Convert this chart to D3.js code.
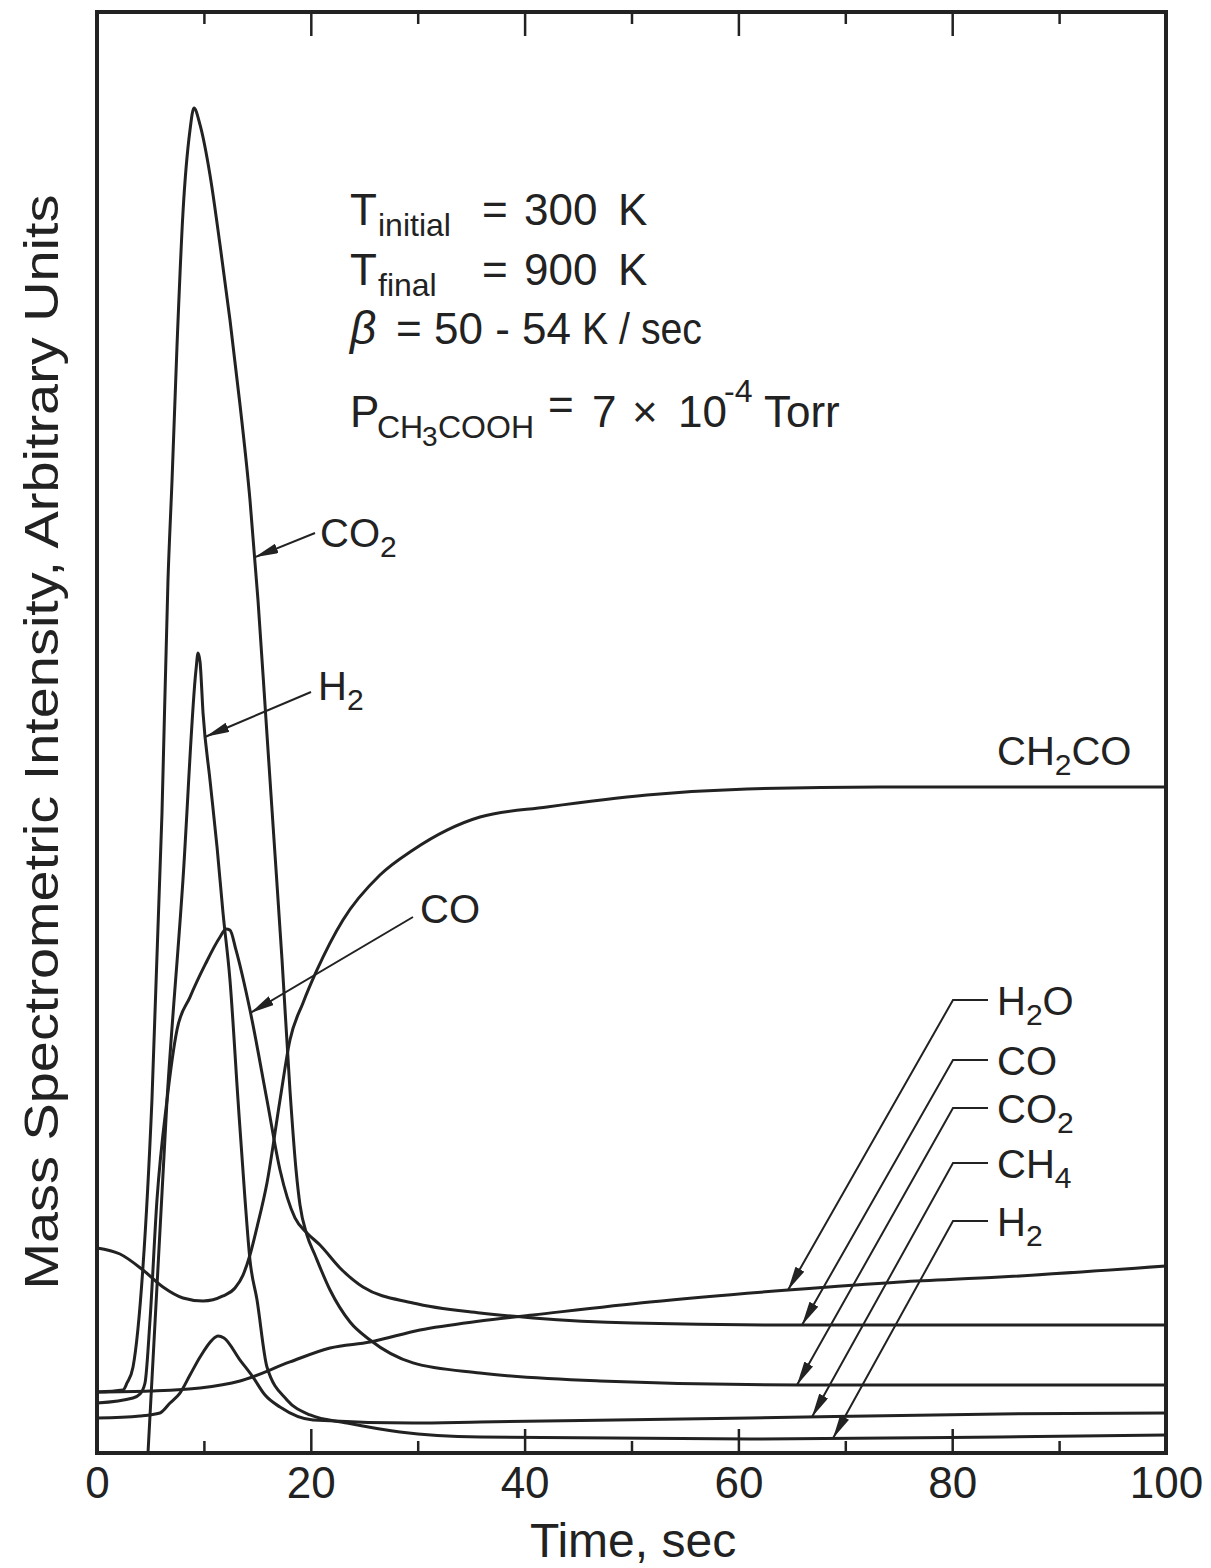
<!DOCTYPE html>
<html>
<head>
<meta charset="utf-8">
<script src="https://cdn.jsdelivr.net/npm/d3@7"></script>
<style>
  body { margin: 0; background: #fff; }
  svg text { font-family: "Liberation Sans", "DejaVu Sans", sans-serif; fill: #222; }
</style>
</head>
<body>
<svg></svg>
<script>
// time (sec) and intensity (arbitrary units, 0-100 of frame height)
const co2 = [[0,4.23],[2.43,4.37],[2.81,4.86],[3.37,5.97],[4.30,12.91],[5.14,24.5],[6.08,44.41],[6.64,60.58],[7.02,67.52],[7.48,76.75],[8.04,86.05],[8.70,91.81],[9.07,93.34],[9.64,92.16],[10.57,88.69],[11.51,83.83],[12.44,78.63],[13.38,72.73],[14.31,66.14],[15.06,59.19],[15.81,50.87],[16.56,42.54],[17.31,34.21],[18.05,25.19],[18.62,19.64],[18.99,17.21],[19.64,15.13],[20.39,13.74],[21.80,11.31],[23.67,9.09],[25.54,7.84],[29.56,6.25],[35.83,5.55],[47.05,5.0],[65.76,4.72],[84.47,4.72],[100,4.72]];
const h2 = [[4.77,0],[6.55,24.5],[8.04,39.76],[9.26,54.34],[9.45,55.52],[9.64,54.89],[9.92,51.35],[10.57,46.7],[11.23,42.05],[11.79,37.47],[12.44,32.82],[13.19,24.5],[13.85,17.56],[14.31,13.39],[14.97,10.62],[15.90,5.97],[17.77,3.68],[19.93,2.64],[23.39,2.08],[28.34,1.46],[35.83,1.11],[61.08,0.97],[84.47,1.11],[100,1.25]];
const co = [[0,3.47],[3.37,3.82],[4.02,4.09],[4.49,4.86],[4.96,9.23],[5.61,17.56],[6.55,24.5],[7.48,29.35],[8.70,31.64],[10.10,33.87],[11.51,35.81],[12.07,36.36],[12.44,36.29],[13.0,34.91],[14.31,30.74],[15.90,24.5],[17.12,19.64],[18.52,16.31],[19.64,15.27],[20.86,14.43],[22.73,12.84],[24.88,11.52],[29.56,10.41],[35.83,9.72],[40.79,9.37],[50.14,9.02],[65.76,8.88],[100,8.88]];
const ch4 = [[0,2.43],[4.02,2.57],[5.89,2.78],[6.83,3.47],[7.76,4.16],[8.70,5.41],[9.64,6.66],[10.76,7.84],[11.32,8.12],[11.88,7.98],[13.38,6.45],[14.59,5.27],[15.72,4.02],[17.12,3.19],[20.21,2.29],[29.56,2.08],[35.83,2.15],[61.08,2.43],[84.47,2.71],[100,2.78]];
const h2o = [[0,4.23],[4.96,4.3],[9.64,4.51],[13.38,5.0],[18.05,6.32],[21.80,7.29],[25.54,7.7],[30.21,8.54],[35.83,9.16],[40.79,9.58],[51.73,10.48],[64.64,11.31],[75.12,11.87],[84.47,12.21],[100,12.98]];
const ch2co = [[0,14.23],[2.15,13.81],[4.30,12.7],[6.17,11.52],[8.04,10.76],[9.92,10.55],[11.79,10.9],[12.91,11.45],[13.66,12.35],[14.31,13.74],[14.97,15.68],[15.90,18.74],[17.12,24.5],[18.05,28.66],[19.27,31.23],[20.58,33.52],[23.01,36.99],[26.47,40.11],[29.56,41.85],[32.74,43.23],[35.83,44.14],[42.10,44.83],[51.45,45.66],[60.80,46.08],[73.25,46.22],[100,46.22]];

const majorTicks = [0, 20, 40, 60, 80, 100];
const minorTicks = [10, 30, 50, 70, 90];

const svg = d3.select("svg").attr("width", 1211).attr("height", 1568);

const x = d3.scaleLinear().domain([0, 100]).range([97, 1166]);
const y = d3.scaleLinear().domain([0, 100]).range([1453, 12]);
const ink = "#222";

// arrowhead
svg.append("defs").append("marker")
    .attr("id", "arrow")
    .attr("viewBox", "0 0 24 10")
    .attr("refX", 24).attr("refY", 5)
    .attr("markerWidth", 24).attr("markerHeight", 10)
    .attr("markerUnits", "userSpaceOnUse")
    .attr("orient", "auto")
    .append("path").attr("d", "M0,0 L24,5 L0,10 Z").attr("fill", ink);

// ticks, pointing inward on top and bottom
function ticks(axisFn, vals, size, yPos, labels) {
    const g = svg.append("g").attr("transform", `translate(0,${yPos})`)
        .call(axisFn(x).tickValues(vals).tickSizeInner(-size).tickSizeOuter(0).tickPadding(14)
            .tickFormat(labels ? d3.format("d") : ""));
    g.select(".domain").remove();
    g.selectAll(".tick line").attr("stroke", ink).attr("stroke-width", 2.5);
    g.selectAll(".tick text").attr("font-size", 44).attr("font-family", null).attr("fill", ink);
    return g;
}
ticks(d3.axisBottom, majorTicks, 24, y(0), true);
ticks(d3.axisBottom, minorTicks, 12, y(0), false);
ticks(d3.axisTop, majorTicks, 24, y(100), false);
ticks(d3.axisTop, minorTicks, 12, y(100), false);

// frame
svg.append("rect")
    .attr("x", x(0)).attr("y", y(100))
    .attr("width", x(100) - x(0)).attr("height", y(0) - y(100))
    .attr("fill", "none").attr("stroke", ink).attr("stroke-width", 4);

// curves
const line = d3.line().x(d => x(d[0])).y(d => y(d[1])).curve(d3.curveMonotoneX);
[co2, h2, co, ch4, h2o, ch2co].forEach(s => {
    svg.append("path").attr("d", line(s))
        .attr("fill", "none").attr("stroke", ink).attr("stroke-width", 3)
        .attr("stroke-linejoin", "round");
});

function valueAt(s, t) {
    for (let i = 1; i < s.length; i++) {
        if (t <= s[i][0]) {
            const a = s[i - 1], b = s[i];
            return a[1] + (b[1] - a[1]) * (t - a[0]) / (b[0] - a[0]);
        }
    }
    return s[s.length - 1][1];
}

// label with subscript
function label(px, py, main, sub, rest, size) {
    size = size || 40;
    const t = svg.append("text").attr("x", px).attr("y", py).attr("font-size", size);
    t.append("tspan").text(main);
    if (sub) t.append("tspan").attr("font-size", size * 0.75).attr("dy", size * 0.25).text(sub);
    if (rest) t.append("tspan").attr("dy", -size * 0.25).text(rest);
    return t;
}

function leader(points, series, tipT) {
    const tip = [x(tipT), y(valueAt(series, tipT))];
    svg.append("path")
        .attr("d", d3.line()(points.concat([tip])))
        .attr("fill", "none").attr("stroke", ink).attr("stroke-width", 2)
        .attr("marker-end", "url(#arrow)");
}

// labels near the peaks
label(320, 547, "CO", "2");
leader([[315, 533]], co2, 14.74);
label(318, 700, "H", "2");
leader([[311, 692]], h2, 10.15);
label(420, 923, "CO");
leader([[413, 917]], co, 14.36);
label(997, 765, "CH", "2", "CO");

// labels on the right
const rightLabels = [
    { main: "H", sub: "2", rest: "O", yc: 1000, s: h2o, t: 64.64 },
    { main: "CO", yc: 1060, s: co, t: 65.95 },
    { main: "CO", sub: "2", yc: 1108, s: co2, t: 65.48 },
    { main: "CH", sub: "4", yc: 1163, s: ch4, t: 66.88 },
    { main: "H", sub: "2", yc: 1221, s: h2, t: 68.85 }
];
rightLabels.forEach(d => {
    label(997, d.yc + 15, d.main, d.sub, d.rest);
    leader([[988, d.yc], [953, d.yc]], d.s, d.t);
});

// conditions block
const fs = 44, sfs = 32;
function plain(px, py, str, size) {
    return svg.append("text").attr("x", px).attr("y", py).attr("font-size", size || fs).text(str);
}
plain(350, 225, "T"); plain(378, 236, "initial", sfs);
plain(482, 225, "="); plain(524, 225, "300"); plain(618, 225, "K");
plain(350, 285, "T"); plain(378, 296, "final", sfs);
plain(482, 285, "="); plain(524, 285, "900"); plain(618, 285, "K");
plain(350, 344, "β", 46).attr("font-style", "italic");
plain(396, 344, "="); plain(434, 344, "50 - 54");
plain(582, 344, "K / sec").attr("textLength", 120).attr("lengthAdjust", "spacingAndGlyphs");
plain(350, 427, "P"); plain(377, 438, "CH", sfs); plain(422, 446, "3", 28); plain(438, 438, "COOH", sfs);
plain(548, 420, "="); plain(592, 427, "7"); plain(632, 427, "×");
plain(678, 427, "10"); plain(724, 402, "-4", sfs); plain(764, 427, "Torr");

// axis titles
svg.append("text").attr("x", 633).attr("y", 1557).attr("text-anchor", "middle")
    .attr("font-size", 48).text("Time, sec");
svg.append("text")
    .attr("transform", "translate(58,742) rotate(-90)")
    .attr("text-anchor", "middle").attr("font-size", 48)
    .attr("textLength", 1095).attr("lengthAdjust", "spacingAndGlyphs")
    .text("Mass Spectrometric Intensity, Arbitrary Units");
</script>
</body>
</html>
